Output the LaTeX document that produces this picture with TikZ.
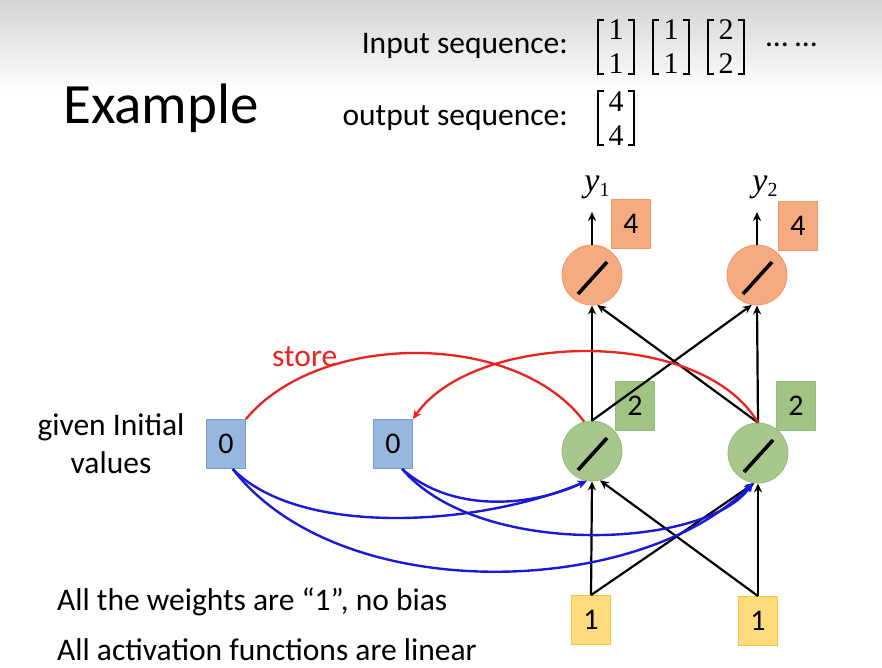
\documentclass[tikz,border=0pt]{standalone}
\usepackage[no-math]{fontspec}
\setmainfont{Carlito}
\newfontfamily\serifd{Liberation Serif}
\usetikzlibrary{arrows.meta}
\definecolor{bluefill}{RGB}{152,183,222}
\definecolor{blueline}{RGB}{120,155,205}
\definecolor{greenfill}{RGB}{168,199,140}
\definecolor{greenline}{RGB}{150,185,125}
\definecolor{gboxfill}{RGB}{160,196,132}
\definecolor{orangefill}{RGB}{245,170,128}
\definecolor{orangeline}{RGB}{238,150,110}
\definecolor{yellowfill}{RGB}{255,219,125}
\definecolor{yellowline}{RGB}{250,195,60}
\definecolor{redc}{RGB}{235,35,30}
\definecolor{bluec}{RGB}{25,25,215}
\begin{document}
\begin{tikzpicture}[x=1pt,y=-1pt,
  txt/.style={font=\fontsize{31.5}{38}\selectfont, inner sep=0pt},
  digit/.style={font=\fontsize{30}{34}\selectfont},
  sq/.style={digit, rectangle, minimum width=39pt, minimum height=49pt, inner sep=0pt, line width=0.8pt},
  bbox/.style={sq, fill=bluefill, draw=blueline},
  gbox/.style={sq, fill=gboxfill, draw=greenline},
  obox/.style={sq, fill=orangefill, draw=orangeline},
  ybox/.style={sq, fill=yellowfill, draw=yellowline},
  neuron/.style={circle, minimum size=60pt, inner sep=0pt, line width=0.8pt,
    path picture={\draw[black, line width=3.6pt] (path picture bounding box.center) ++(-14,19) -- ++(29,-32);}},
  gcirc/.style={neuron, fill=greenfill, draw=greenline},
  ocirc/.style={neuron, fill=orangefill, draw=orangeline},
  arr/.style={line width=2.2pt, -{Stealth[length=9pt,width=8pt]}},
  redl/.style={line width=2.3pt, draw=redc},
  bluel/.style={line width=2.4pt, draw=bluec, -{Stealth[length=9pt,width=8pt]}},
  vec/.style={inner sep=0pt, align=center, font=\serifd\fontsize{30}{34}\selectfont},
  brk/.style={line width=1.2pt, line cap=rect},
  ylab/.style={inner sep=0pt, font=\serifd\fontsize{34}{36}\selectfont}
]
\useasboundingbox (0,0) rectangle (882,667);
\shade[top color={rgb,255:red,212;green,212;blue,212}, bottom color=white] (0,0) rectangle (882,92);

% titles
\node[anchor=base west, inner sep=0pt, font=\fontsize{57}{66}\selectfont] (title) at (63,123) {Example};
\node[txt, anchor=base east] (inlab) at (568,53) {Input sequence:};
\node[txt, anchor=base east] (outlab) at (568,125) {output sequence:};
\node[vec, anchor=base] (mA) at (616,73) {1\\1};
\node[vec, anchor=base] (mB) at (671,73) {1\\1};
\node[vec, anchor=base] (mC) at (726,73) {2\\2};
\node[vec, anchor=base] (mO) at (616,145) {4\\4};
\foreach \m/\yc in {mA/47,mB/47,mC/47,mO/118}{
  \draw[brk] (\m.center |- 0,\yc) ++(-12.5,-27) -- ++(-5.5,0) -- ++(0,54) -- ++(5.5,0);
  \draw[brk] (\m.center |- 0,\yc) ++(12.5,-27) -- ++(5.5,0) -- ++(0,54) -- ++(-5.5,0);
}
\node[txt, anchor=base west] (dots) at (766,53) {\raisebox{7pt}{…\ …}};

% side texts
\node[txt, align=center] (init) at (111,444) {given Initial\\values};
\node[txt, anchor=base west, text=redc] (store) at (272,366) {store};
\node[txt, anchor=base west] (note1) at (57,610) {All the weights are “1”, no bias};
\node[txt, anchor=base west] (note2) at (57,660) {All activation functions are linear};

% network nodes
\node[gcirc] (g1) at (592,451) {};
\node[gcirc] (g2) at (758,453) {};
\node[ocirc] (o1) at (592,275) {};
\node[ocirc] (o2) at (757,275) {};
\node[bbox] (m1) at (226,444) {0};
\node[bbox] (m2) at (393,444) {0};
\node[gbox] (gb1) at (635,406) {2};
\node[gbox] (gb2) at (796,406) {2};
\node[obox] (ob1) at (631,224) {4};
\node[obox] (ob2) at (798,226) {4};
\node[ybox] (x1) at (591,620) {1};
\node[ybox] (x2) at (758,621) {1};
\node[ylab, anchor=base] (y1) at (597,191) {\itshape y\/\raisebox{-5pt}{\upshape\fontsize{20}{22}\selectfont 1}};
\node[ylab, anchor=base] (y2) at (765,191) {\itshape y\/\raisebox{-5pt}{\upshape\fontsize{20}{22}\selectfont 2}};
\coordinate (t1) at (592,212);
\coordinate (t2) at (757,212);

% black connectors
\draw[arr] (x1.north) -- (g1.south);
\draw[arr] (x1.north) -- (g2.-97);
\draw[arr] (x2.north) -- (g2.south);
\draw[arr] (x2.north) -- (g1.-75);
\draw[arr] (g1.north) -- (o1.south);
\draw[arr] (g1.north) -- (o2.-100);
\draw[arr] (g2.north) -- (o2.south);
\draw[arr] (g2.north) -- (o1.-80);
\draw[arr] (o1.north) -- (t1);
\draw[arr] (o2.north) -- (t2);

% red (store) curves
\draw[redl] (m1.north east) .. controls (320,330) and (517,331) .. (g1.105);
\draw[redl, -{Stealth[length=9pt,width=8pt]}] (g2.north) .. controls (700,325) and (473,332) .. (m2.north east);

% blue curves
\draw[bluel] (m1.-75) .. controls (300,538) and (480,526) .. (g1.-100);
\draw[bluel] (m1.-75) .. controls (340,608) and (640,598) .. (g2.-100);
\draw[bluel] (m2.-70) .. controls (450,512) and (528,508) .. (g1.-100);
\draw[bluel] (m2.-70) .. controls (480,560) and (708,548) .. (g2.-100);
\end{tikzpicture}
\end{document}
